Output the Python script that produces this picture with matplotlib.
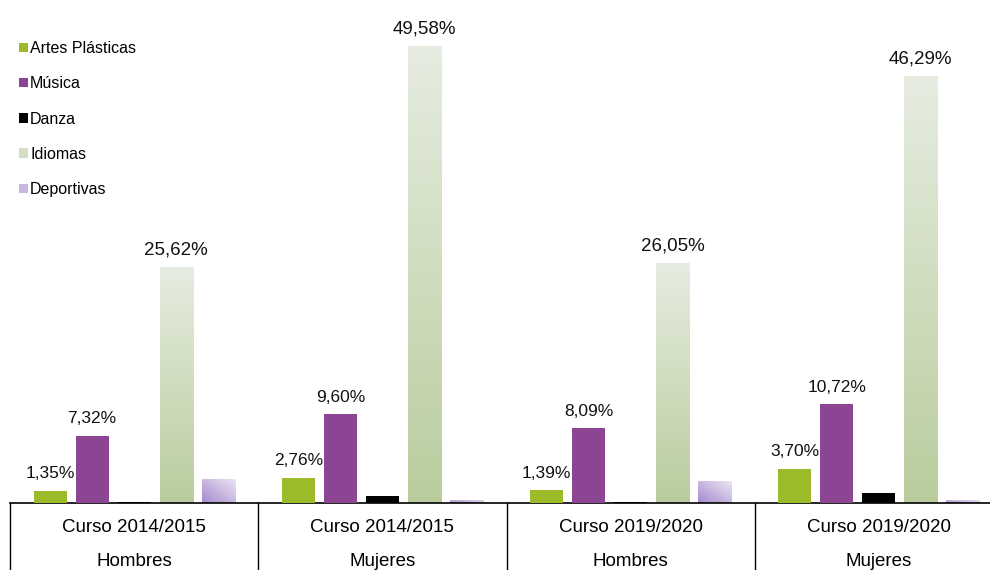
import numpy as np
import matplotlib.pyplot as plt
from matplotlib.patches import Patch
from matplotlib.colors import LinearSegmentedColormap
import matplotlib.transforms as mtransforms

plt.rcParams['font.family'] = ['Liberation Sans', 'DejaVu Sans']

# data
cursos = ['Curso 2014/2015', 'Curso 2014/2015', 'Curso 2019/2020', 'Curso 2019/2020']
sexo = ['Hombres', 'Mujeres', 'Hombres', 'Mujeres']
series = ['Artes Plásticas', 'Música', 'Danza', 'Idiomas', 'Deportivas']
artes = [1.35, 2.76, 1.39, 3.70]
musica = [7.32, 9.60, 8.09, 10.72]
danza = [0.15, 0.75, 0.10, 1.05]
idiomas = [25.62, 49.58, 26.05, 46.29]
deportivas = [2.60, 0.35, 2.35, 0.30]
labelled = [True, True, False, True, False]

values = [artes, musica, danza, idiomas, deportivas]
colors = ['#9bbb2a', '#8b4592', '#000000', '#d2dfc4', '#c8b9e1']

fig = plt.figure(figsize=(9.9, 5.7), dpi=100)
ax = fig.add_axes([10 / 990, 67 / 570, 993 / 990, 503 / 570])

step = 0.169
width = 0.133
x = np.arange(len(cursos))

cm_idiomas = LinearSegmentedColormap.from_list('id', ['#b9cd9e', '#e6ece0'])
cm_dep = LinearSegmentedColormap.from_list('dep', ['#a68acd', '#ebe5f2'])


def gradient_bar(bar, cmap, diagonal=False):
    x0, y0 = bar.get_x(), bar.get_y()
    w, h = bar.get_width(), bar.get_height()
    n = 64
    if diagonal:
        gx, gy = np.meshgrid(np.linspace(0, 1, n), np.linspace(0, 1, n))
        grad = (gx + gy) / 2
    else:
        grad = np.linspace(0, 1, n).reshape(-1, 1)
    im = ax.imshow(grad, cmap=cmap, origin='lower', aspect='auto',
                   extent=[x0, x0 + w, y0, y0 + h], zorder=2, interpolation='bilinear')
    im.set_clip_path(bar)
    bar.set_facecolor('none')


for i, (name, vals, col) in enumerate(zip(series, values, colors)):
    pos = x + (i - 2) * step
    bars = ax.bar(pos, vals, width, color=col, label=name, zorder=3)
    if name == 'Idiomas':
        for b in bars:
            gradient_bar(b, cm_idiomas)
    elif name == 'Deportivas':
        for b in bars:
            gradient_bar(b, cm_dep, diagonal=True)
    if labelled[i]:
        fs = 13.5 if name == 'Idiomas' else 12.5
        for p, v in zip(pos, vals):
            ax.annotate(f'{v:.2f}%'.replace('.', ','), (p, v), xytext=(0, 9),
                        textcoords='offset points', ha='center', va='baseline',
                        fontsize=fs, color='#111111')

ax.set_xlim(-0.5, 3.5)
ax.set_ylim(0, 54.56)
for s in ['top', 'right', 'left']:
    ax.spines[s].set_visible(False)
ax.spines['bottom'].set_linewidth(1.2)
ax.set_xticks([])
ax.set_yticks([])

# two-level category axis
trans = mtransforms.blended_transform_factory(ax.transData, ax.transAxes)
for b in np.arange(-0.5, 4.0, 1.0):
    ax.plot([b, b], [0, -0.14], color='black', lw=1, transform=trans, clip_on=False)
for xi, c, s in zip(x, cursos, sexo):
    ax.text(xi, -24 / 503, c, transform=trans, ha='center', va='center', fontsize=13.5)
    ax.text(xi, -58 / 503, s, transform=trans, ha='center', va='center', fontsize=13.5)

handles = [Patch(facecolor=c, label=n) for n, c in zip(series, colors)]
fig.legend(handles=handles, loc='upper left', bbox_to_anchor=(11 / 990, 1 - 33 / 570),
           frameon=False, fontsize=11.5, handlelength=0.55, handleheight=0.55,
           handletextpad=0.15, labelspacing=1.27, borderpad=0)

fig.savefig('out.png', dpi=100)
